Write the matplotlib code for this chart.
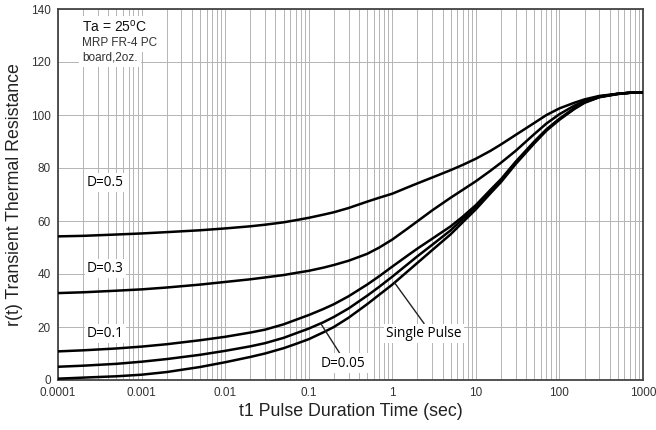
import numpy as np
import matplotlib
matplotlib.use("Agg")
import matplotlib.pyplot as plt
from matplotlib.ticker import FixedLocator, NullFormatter

plt.rcParams['font.family'] = ['Liberation Sans', 'DejaVu Sans']
plt.rcParams['mathtext.default'] = 'regular'

t = [1e-4, 2e-4, 5e-4, 1e-3, 2e-3, 5e-3, 1e-2, 2e-2, 3e-2, 5e-2, 7e-2,
     0.1, 0.15, 0.2, 0.3, 0.5, 0.7, 1, 1.5, 2, 3, 5, 7, 10, 15, 20, 30, 50, 70,
     100, 150, 200, 300, 500, 700, 1000]

d05 = [54.2, 54.4, 54.9, 55.3, 55.8, 56.5, 57.2, 58.0, 58.6, 59.5, 60.3,
       61.2, 62.4, 63.3, 64.9, 67.3, 68.8, 70.3, 72.6, 74.2, 76.4, 79.2, 81.2,
       83.5, 86.5, 88.9, 92.5, 97.0, 100.0, 102.5, 104.6, 105.9, 107.2, 108.0,
       108.4, 108.6]
d03 = [32.8, 33.1, 33.7, 34.2, 34.9, 36.0, 37.0, 38.0, 38.7, 39.6, 40.4,
       41.2, 42.4, 43.4, 45.0, 47.6, 50.0, 53.0, 57.0, 59.9, 64.0, 68.8, 71.8,
       75.0, 79.0, 82.0, 86.5, 92.8, 96.8, 100.3, 103.5, 105.3, 107.0, 108.0,
       108.4, 108.6]
d01 = [10.8, 11.2, 11.9, 12.6, 13.5, 15.0, 16.3, 17.9, 19.0, 21.0, 22.7,
       24.5, 26.8, 28.6, 31.6, 36.0, 39.2, 42.8, 46.8, 49.6, 53.3, 58.0, 61.7,
       66.0, 71.8, 75.8, 82.4, 90.0, 94.6, 98.6, 102.6, 104.9, 106.8, 108.0,
       108.4, 108.6]
d005 = [5.0, 5.4, 6.1, 6.9, 7.9, 9.5, 11.0, 12.7, 13.9, 15.9, 17.6,
        19.4, 21.8, 23.8, 27.0, 31.8, 35.2, 39.0, 43.5, 46.7, 51.0, 56.5, 60.8,
        65.3, 71.2, 75.3, 82.0, 89.7, 94.4, 98.4, 102.4, 104.8, 106.8, 108.0,
        108.4, 108.6]
single = [0.5, 0.9, 1.4, 2.0, 3.0, 4.9, 6.7, 8.7, 10.0, 12.0, 13.6,
          15.4, 18.0, 20.0, 23.5, 28.6, 32.2, 36.0, 40.8, 44.2, 49.0, 55.0, 59.6,
          64.4, 70.5, 74.7, 81.5, 89.3, 94.1, 98.2, 102.2, 104.6, 106.7, 107.9,
          108.4, 108.6]

x_ticks = [1e-4, 1e-3, 1e-2, 0.1, 1, 10, 100, 1000]
x_tick_labels = ["0.0001", "0.001", "0.01", "0.1", "1", "10", "100", "1000"]
y_ticks = [0, 20, 40, 60, 80, 100, 120, 140]

fig = plt.figure(figsize=(6.56, 4.30), dpi=100)
ax = fig.add_axes([58/656, 1-380/430, (643-58)/656, (380-9)/430])
ax.set_xscale('log')
ax.set_xlim(1e-4, 1000)
ax.set_ylim(0, 140)

minor = [m * 10.0**e for e in range(-4, 3) for m in range(2, 10)]
ax.xaxis.set_major_locator(FixedLocator(x_ticks))
ax.xaxis.set_minor_locator(FixedLocator(minor))
ax.xaxis.set_minor_formatter(NullFormatter())
ax.set_xticklabels(x_tick_labels)
ax.set_yticks(y_ticks)
ax.grid(True, which='both', axis='x', color='#b4b4b4', lw=0.7)
ax.grid(True, which='major', axis='y', color='#b4b4b4', lw=0.7)
ax.tick_params(which='both', length=0, labelsize=8.5, labelcolor='#333333', pad=5)
for s in ax.spines.values():
    s.set_color('#444444')
    s.set_linewidth(1.3)

for ys in (d05, d03, d01, d005, single):
    ax.plot(t, ys, color='black', lw=1.8, solid_capstyle='round',
            solid_joinstyle='round', zorder=3)

ax.set_xlabel("t1 Pulse Duration Time (sec)", fontsize=12.8, color='#222222', labelpad=3)
ax.set_ylabel("r(t) Transient Thermal Resistance", fontsize=12.8, color='#222222', labelpad=6)

lab_font = ['Open Sans', 'DejaVu Sans']
bbox = dict(facecolor='white', edgecolor='none', pad=1.5)
for txt, yv in (("D=0.5", 74.7), ("D=0.3", 42.0), ("D=0.1", 17.5)):
    ax.text(2.2e-4, yv, txt, fontsize=9.8, family=lab_font, va='center', ha='left',
            bbox=bbox, zorder=4)

ax.annotate("Single Pulse", xy=(1.06, 36.8), xytext=(2.4, 17.7), fontsize=9.8,
            family=lab_font, ha='center', va='center', bbox=bbox, zorder=4,
            arrowprops=dict(arrowstyle='-', color='#222222', lw=1.0,
                            shrinkA=0, shrinkB=0, relpos=(0.52, 1.0)))
ax.annotate("D=0.05", xy=(0.14, 21.2), xytext=(0.26, 6.4), fontsize=9.8,
            family=lab_font, ha='center', va='center', bbox=bbox, zorder=4,
            arrowprops=dict(arrowstyle='-', color='#222222', lw=1.0,
                            shrinkA=0, shrinkB=0, relpos=(0.45, 1.0)))

ax.text(1.95e-4, 133.3, "Ta = 25$^{o}$C", fontsize=10, ha='left', va='center',
        color='#111111', bbox=dict(facecolor='white', edgecolor='none', pad=2), zorder=4)
ax.text(1.95e-4, 127.2, "MRP FR-4 PC", fontsize=8.5, ha='left', va='center',
        color='#333333', bbox=dict(facecolor='white', edgecolor='none', pad=2), zorder=4)
ax.text(1.95e-4, 121.6, "board,2oz.", fontsize=8.5, ha='left', va='center',
        color='#333333', bbox=dict(facecolor='white', edgecolor='none', pad=2), zorder=4)

fig.savefig("out.png", dpi=100)
